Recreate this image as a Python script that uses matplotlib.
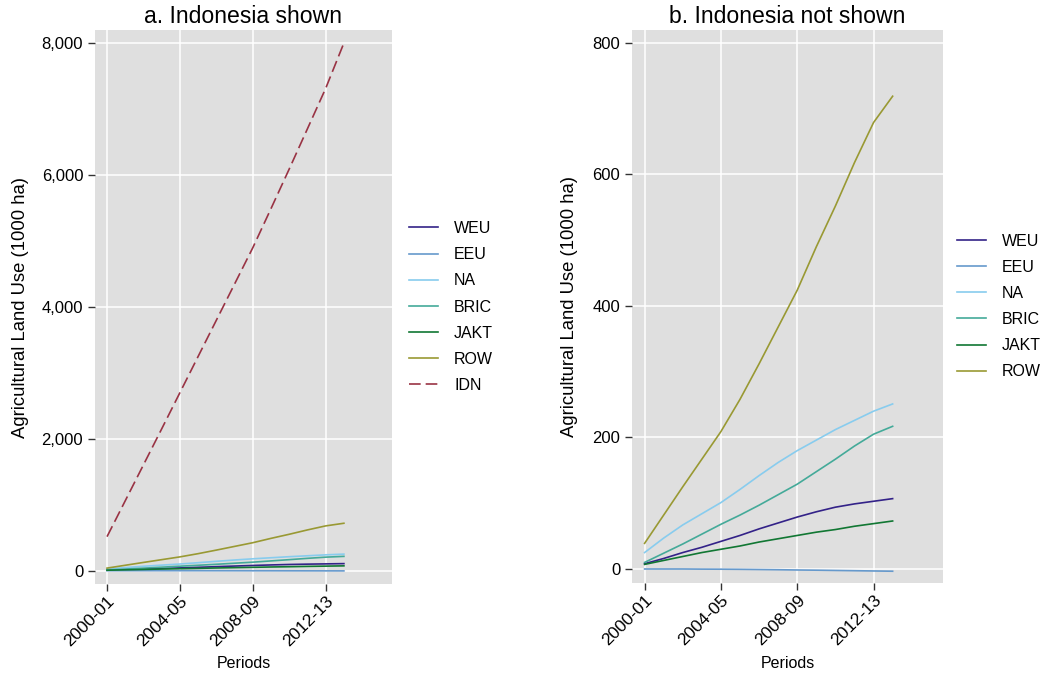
import matplotlib
matplotlib.use("Agg")
import matplotlib.pyplot as plt
from matplotlib.ticker import FuncFormatter

plt.rcParams["font.family"] = ["Liberation Sans", "DejaVu Sans"]

# =============================================================================
# data (1000 ha)
periods = ["2000-01", "2001-02", "2002-03", "2003-04", "2004-05", "2005-06",
           "2006-07", "2007-08", "2008-09", "2009-10", "2010-11", "2011-12",
           "2012-13", "2013-14"]
tick_periods = ["2000-01", "2004-05", "2008-09", "2012-13"]

weu = [8, 16, 25, 33, 42, 51, 61, 70, 79, 87, 94, 99, 103, 107]
eeu = [0, 0, 0, -0.2, -0.3, -0.5, -0.8, -1.1, -1.5, -1.8, -2.2, -2.6, -3.0, -3.4]
na = [25, 47, 67, 84, 101, 121, 142, 162, 180, 196, 212, 226, 240, 251]
bric = [10, 24, 38, 53, 68, 82, 97, 113, 129, 148, 167, 187, 205, 217]
jakt = [7, 13, 19, 25, 30, 35, 41, 46, 51, 56, 60, 65, 69, 73]
row = [39, 82, 125, 167, 209, 258, 312, 368, 424, 490, 552, 618, 679, 719]
idn = [516, 1060, 1605, 2150, 2699, 3248, 3797, 4346, 4896, 5490, 6090,
       6700, 7312, 8000]

regions = ["WEU", "EEU", "NA", "BRIC", "JAKT", "ROW"]
series = [weu, eeu, na, bric, jakt, row]
colors = ["#332288", "#6699CC", "#88CCEE", "#44AA99", "#117733", "#999933"]
idn_color = "#993344"


# =============================================================================
def style_axes(ax, ylim, yticks, ylab_x, xlab_y):
    ax.set_facecolor("#dfdfdf")
    for s in ax.spines.values():
        s.set_visible(False)
    ax.set_xlim(-0.66, 15.64)
    ax.set_ylim(*ylim)
    ax.set_yticks(yticks)
    ax.yaxis.set_major_formatter(FuncFormatter(lambda v, p: f"{v:,.0f}"))
    ax.set_xticks([periods.index(p) for p in tick_periods])
    ax.set_xticklabels(tick_periods, rotation=45, ha="right",
                       rotation_mode="anchor")
    ax.grid(True, color="white", linewidth=1.1)
    ax.set_axisbelow(True)
    ax.tick_params(direction="out", length=5, width=1, color="#333333",
                   labelcolor="black")
    ax.tick_params(axis="x", pad=2, labelsize=12.5)
    ax.tick_params(axis="y", pad=3.5, labelsize=12)
    ax.set_xlabel("Periods", fontsize=11.5)
    ax.set_ylabel("Agricultural Land Use (1000 ha)", fontsize=13.3)
    ax.yaxis.set_label_coords(ylab_x, 0.5)
    ax.xaxis.set_label_coords(0.5, xlab_y)


fig = plt.figure(figsize=(10.44, 6.75), dpi=100)
ax_a = fig.add_axes([95 / 1044, 1 - 584 / 675, 297 / 1044, 554 / 675])
ax_b = fig.add_axes([632 / 1044, 1 - 583 / 675, 311 / 1044, 553 / 675])

x = list(range(len(periods)))

for ax in (ax_a, ax_b):
    for name, vals, c in zip(regions, series, colors):
        ax.plot(x, vals, color=c, linewidth=1.2, label=name)

ax_a.plot(x, idn, color=idn_color, linewidth=1.2, dashes=(7, 3), label="IDN")

style_axes(ax_a, (-202, 8197), [0, 2000, 4000, 6000, 8000], -0.222, -0.13)
style_axes(ax_b, (-21.3, 819.7), [0, 200, 400, 600, 800], -0.175, -0.132)

ax_a.set_title("a. Indonesia shown", fontsize=16.6, pad=5)
ax_b.set_title("b. Indonesia not shown", fontsize=16.6, pad=5)

ax_a.legend(loc="center left", bbox_to_anchor=(1.01, 0.5), frameon=False,
            fontsize=11.5, handlelength=1.8, handletextpad=1.0,
            labelspacing=0.7)
ax_b.legend(loc="center left", bbox_to_anchor=(1.0, 0.5), frameon=False,
            fontsize=11.5, handlelength=1.8, handletextpad=1.0,
            labelspacing=0.7)

fig.savefig("out.png", dpi=100, facecolor="white")
